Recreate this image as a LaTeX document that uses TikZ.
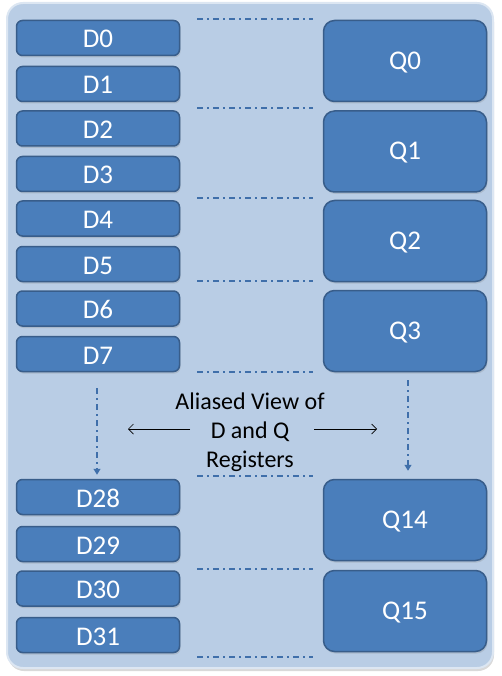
\documentclass[tikz,border=0pt]{standalone}
\usepackage{fontspec}
\setmainfont{Carlito}
\usetikzlibrary{positioning, shadows, arrows.meta}

\definecolor{panelblue}{HTML}{B9CDE5}
\definecolor{panelrim}{HTML}{DCE6F2}
\definecolor{regblue}{HTML}{4A7EBB}
\definecolor{regrim}{HTML}{385D8A}
\definecolor{sepblue}{HTML}{3F6FAA}

\tikzset{
  dreg/.style={draw=regrim, line width=1.5pt, fill=regblue, rounded corners=6pt,
    minimum width=163pt, minimum height=35pt, inner sep=0pt, text=white,
    text height=20pt, text depth=0pt,
    font=\fontsize{27}{32}\selectfont,
    drop shadow={shadow xshift=1pt, shadow yshift=-2pt, opacity=0.25}},
  qreg/.style={dreg, rounded corners=11pt, minimum height=81pt, text height=17pt},
  sepline/.style={sepblue, line width=1.2pt, dash pattern=on 6pt off 4pt on 2pt off 4pt},
  flow/.style={sepline, -{Triangle[length=6pt, width=7pt]}},
  viewarrow/.style={black, line width=0.7pt, -{Straight Barb[length=5pt, width=10pt]}}
}

\begin{document}
\begin{tikzpicture}[x=1pt, y=-1pt]
    \useasboundingbox (0,0) rectangle (501,676);

    % Fundo
    \draw[panelrim, line width=2pt, fill=panelblue, rounded corners=16pt,
      drop shadow={shadow xshift=1pt, shadow yshift=-3pt, opacity=0.3}] (7,3) rectangle (493,668);

    % Registradores D
    \node[dreg] (D0) at (98,38) {D0};
    \node[dreg] (D1) at (98,84) {D1};
    \node[dreg] (D2) at (98,128.5) {D2};
    \node[dreg] (D3) at (98,174) {D3};
    \node[dreg] (D4) at (98,218.5) {D4};
    \node[dreg] (D5) at (98,264) {D5};
    \node[dreg] (D6) at (98,308.5) {D6};
    \node[dreg] (D7) at (98,354) {D7};
    \node[dreg] (D28) at (98,497) {D28};
    \node[dreg] (D29) at (98,544) {D29};
    \node[dreg] (D30) at (98,588.5) {D30};
    \node[dreg] (D31) at (98,635) {D31};

    % Registradores Q
    \node[qreg] (Q0) at (405,61) {Q0};
    \node[qreg] (Q1) at (405,151.5) {Q1};
    \node[qreg] (Q2) at (405,241) {Q2};
    \node[qreg] (Q3) at (405,331) {Q3};
    \node[qreg] (Q14) at (405,520) {Q14};
    \node[qreg] (Q15) at (405,611) {Q15};

    % Linhas de separacao
    \draw[sepline] (197,19) -- (313,19);
    \draw[sepline] (197,108) -- (313,108);
    \draw[sepline] (197,198) -- (313,198);
    \draw[sepline] (197,281) -- (313,281);
    \draw[sepline] (197,372) -- (313,372);
    \draw[sepline] (197,476) -- (313,476);
    \draw[sepline] (197,569) -- (313,569);
    \draw[sepline] (197,657) -- (313,657);

    % Continuacao
    \draw[flow, shorten <=16pt, shorten >=4pt] ([xshift=-1pt]D7.south) -- ([xshift=-1pt]D28.north);
    \draw[flow, shorten <=8pt, shorten >=8pt] ([xshift=3pt]Q3.south) -- ([xshift=3pt]Q14.north);

    % Texto central
    \node[align=center, inner sep=0pt, font=\fontsize{24}{29}\selectfont] (alias) at (250,432)
      {Aliased View of\\D and Q\\Registers};
    \coordinate (viewL) at (128,429);
    \coordinate (viewR) at (377,429);
    \draw[viewarrow] ([xshift=-60pt, yshift=3pt]alias.center) -- (viewL);
    \draw[viewarrow] ([xshift=64pt, yshift=3pt]alias.center) -- (viewR);

\end{tikzpicture}
\end{document}
